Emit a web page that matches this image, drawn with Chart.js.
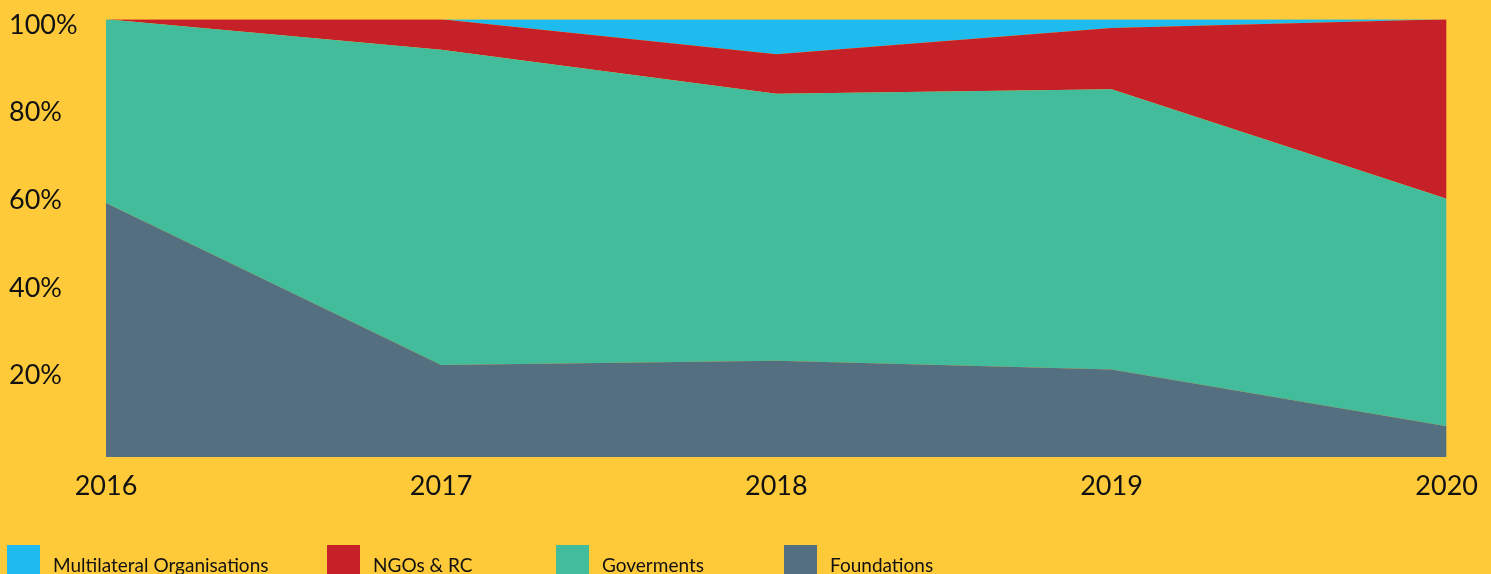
<!DOCTYPE html>
<html>
<head>
<meta charset="utf-8">
<script src="https://cdn.jsdelivr.net/npm/chart.js@4/dist/chart.umd.min.js"></script>
<style>
  html, body { margin: 0; padding: 0; background: #FFCA3A; }
  #wrap { position: relative; width: 1491px; height: 574px; overflow: hidden; }
  #fundingChart { position: absolute; left: 0; top: 0; }
  .legend-item { position: absolute; top: 545px; display: flex; align-items: flex-start; font-family: Lato, sans-serif; font-size: 19px; color: #111; }
  .legend-box { width: 33px; height: 34px; margin-right: 13px; }
  .legend-label { margin-top: 8px; }
</style>
</head>
<body>
<div id="wrap">
  <canvas id="fundingChart" width="1491" height="574"></canvas>
  <div id="legend"></div>
</div>
<script>
const years = ['2016', '2017', '2018', '2019', '2020'];
const foundations = [58, 21, 22, 20, 7];
const governments = [42, 72, 61, 64, 52];
const ngos = [0, 7, 9, 14, 41];
const multilateral = [0, 0, 8, 2, 0];
const yTicks = [0, 20, 40, 60, 80, 100];

const fundingChart = document.getElementById('fundingChart');

// bottom to top, stacked
const series = [
  { label: 'Foundations', data: foundations, color: '#546F80' },
  { label: 'Goverments', data: governments, color: '#43BC9C' },
  { label: 'NGOs & RC', data: ngos, color: '#C62028' },
  { label: 'Multilateral Organisations', data: multilateral, color: '#1DBBEE' }
];

new Chart(fundingChart, {
  type: 'line',
  data: {
    labels: years,
    datasets: series.map((s, i) => ({
      label: s.label,
      data: s.data,
      backgroundColor: s.color,
      borderWidth: 0,
      pointRadius: 0,
      tension: 0,
      fill: i === 0 ? 'origin' : '-1'
    }))
  },
  options: {
    responsive: false,
    animation: false,
    layout: { padding: { left: 9, right: 43, top: 18, bottom: 0 } },
    plugins: {
      legend: { display: false },
      tooltip: { enabled: false }
    },
    scales: {
      x: {
        grid: { display: false, drawTicks: false },
        border: { display: false },
        ticks: {
          color: '#111',
          font: { family: 'Lato', size: 27 },
          padding: 13,
          maxRotation: 0,
          autoSkip: false
        },
        afterFit: scale => { scale.height = 117; }
      },
      y: {
        stacked: true,
        min: 0,
        max: 100,
        grid: { display: false, drawTicks: false },
        border: { display: false },
        afterBuildTicks: scale => { scale.ticks = yTicks.map(v => ({ value: v })); },
        ticks: {
          color: '#111',
          font: { family: 'Lato', size: 27 },
          crossAlign: 'far',
          labelOffset: 6,
          callback: v => v === 0 ? '' : v + '%'
        },
        afterFit: scale => { scale.width = 97; }
      }
    }
  }
});

// legend, top series first
const legendLefts = [7, 327, 556, 784];
const legend = document.getElementById('legend');
series.slice().reverse().forEach((s, i) => {
  const item = document.createElement('div');
  item.className = 'legend-item';
  item.style.left = legendLefts[i] + 'px';
  item.innerHTML = '<div class="legend-box" style="background:' + s.color + '"></div><span class="legend-label">' + s.label + '</span>';
  legend.appendChild(item);
});
</script>
</body>
</html>
